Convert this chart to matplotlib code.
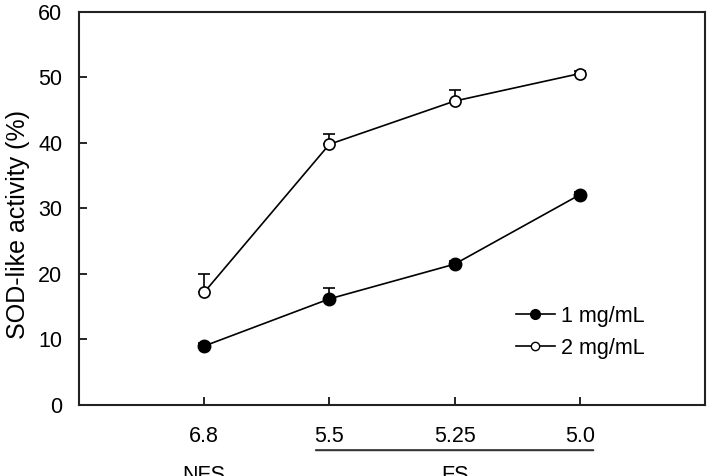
import matplotlib.pyplot as plt
from matplotlib.lines import Line2D

plt.rcParams["font.family"] = ["Liberation Sans", "DejaVu Sans"]

ph_labels = ["6.8", "5.5", "5.25", "5.0"]
sod_1mg = [9.0, 16.2, 21.5, 32.1]
err_1mg = [0.5, 1.7, 0.5, 0.4]
sod_2mg = [17.2, 39.8, 46.4, 50.6]
err_2mg = [2.8, 1.6, 1.7, 0.4]

x = list(range(1, len(ph_labels) + 1))
fs = 15.5

fig = plt.figure(figsize=(7.09, 4.76), dpi=100)
ax = fig.add_axes([0.1114, 0.1492, 0.8830, 0.8256])

ax.errorbar(x, sod_1mg, yerr=[[0] * 4, err_1mg], fmt="-o", color="black",
            mfc="black", mec="black", ms=9, lw=1.2, elinewidth=1.2,
            capsize=4, capthick=1.2, zorder=3)
ax.errorbar(x, sod_2mg, yerr=[[0] * 4, err_2mg], fmt="-o", color="black",
            mfc="white", mec="black", ms=8, mew=1.2, lw=1.2, elinewidth=1.2,
            capsize=4, capthick=1.2, zorder=3)

ax.set_xlim(0, 5)
ax.set_ylim(0, 60)
ax.set_yticks(range(0, 61, 10))
ax.set_xticks(x)
ax.set_xticklabels(ph_labels)
ax.tick_params(direction="in", length=6, width=1.2, labelsize=fs)
ax.tick_params(axis="x", pad=15)
ax.tick_params(axis="y", pad=12)
for s in ax.spines.values():
    s.set_linewidth(1.5)
    s.set_color("#222222")

ax.set_ylabel("SOD-like activity (%)", fontsize=18)
ax.yaxis.set_label_coords(-0.078, 0.46)

# group labels under the pH ticks
ax.annotate("", xy=(1.87, -0.115), xytext=(4.13, -0.115),
            xycoords=("data", "axes fraction"),
            arrowprops=dict(arrowstyle="-", lw=1.5, color="#333333"))
ax.text(1, -0.18, "NFS", transform=ax.get_xaxis_transform(),
        ha="center", va="center", fontsize=fs)
ax.text(3, -0.18, "FS", transform=ax.get_xaxis_transform(),
        ha="center", va="center", fontsize=fs)

handles = [
    Line2D([], [], color="black", lw=1.2, marker="o", ms=7, mfc="black", mec="black"),
    Line2D([], [], color="black", lw=1.2, marker="o", ms=6, mfc="white", mec="black"),
]
ax.legend(handles, ["1 mg/mL", "2 mg/mL"], loc="center left",
          bbox_to_anchor=(0.667, 0.185), frameon=False, fontsize=fs,
          handlelength=1.8, handletextpad=0.3, labelspacing=0.5)

fig.savefig("out.png", dpi=100)
